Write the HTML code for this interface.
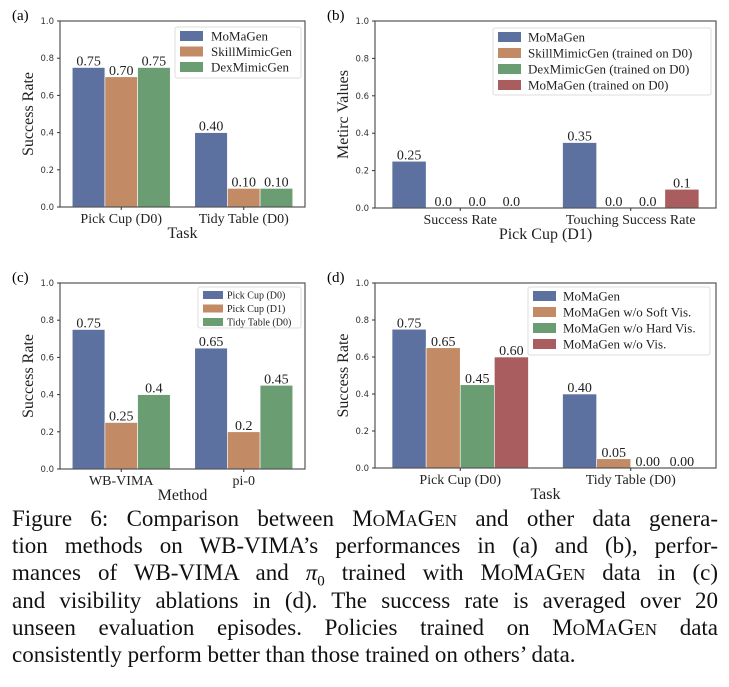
<!DOCTYPE html>
<html><head><meta charset="utf-8">
<style>
body{margin:0;background:#fff;width:729px;height:687px;overflow:hidden;position:relative;font-family:"Liberation Serif",serif}
svg{position:absolute;left:0;top:0}
.cap{position:absolute;left:12px;width:706px;font-size:23px;line-height:27px;text-align:justify;text-align-last:justify;white-space:nowrap;color:#111}
.sc{font-size:17px}
</style></head><body>
<svg id="chart" width="729" height="505"></svg>
<div class="cap" style="top:505px">Figure 6: Comparison between M<span class="sc">O</span>M<span class="sc">A</span>G<span class="sc">EN</span> and other data genera-</div>
<div class="cap" style="top:532px">tion methods on WB-VIMA’s performances in (a) and (b), perfor-</div>
<div class="cap" style="top:559px">mances of WB-VIMA and <i>π</i><sub style="font-size:15px">0</sub> trained with M<span class="sc">O</span>M<span class="sc">A</span>G<span class="sc">EN</span> data in (c)</div>
<div class="cap" style="top:587px">and visibility ablations in (d). The success rate is averaged over 20</div>
<div class="cap" style="top:614px">unseen evaluation episodes. Policies trained on M<span class="sc">O</span>M<span class="sc">A</span>G<span class="sc">EN</span> data</div>
<div class="cap" style="top:641px;text-align-last:left">consistently perform better than those trained on others’ data.</div>
<script>
const colors=["#5d71a0","#c38a66","#6a9e72","#a95d5f"];
const yTicks=[0,0.2,0.4,0.6,0.8,1.0];
const yTickLabels=["0.0","0.2","0.4","0.6","0.8","1.0"];
// (a)
const catsA=["Pick Cup (D0)","Tidy Table (D0)"];
const seriesA=["MoMaGen","SkillMimicGen","DexMimicGen"];
const valsA=[[0.75,0.40],[0.70,0.10],[0.75,0.10]];
const labsA=[["0.75","0.40"],["0.70","0.10"],["0.75","0.10"]];
// (b)
const catsB=["Success Rate","Touching Success Rate"];
const seriesB=["MoMaGen","SkillMimicGen (trained on D0)","DexMimicGen (trained on D0)","MoMaGen (trained on D0)"];
const valsB=[[0.25,0.35],[0,0],[0,0],[0,0.1]];
const labsB=[["0.25","0.35"],["0.0","0.0"],["0.0","0.0"],["0.0","0.1"]];
// (c)
const catsC=["WB-VIMA","pi-0"];
const seriesC=["Pick Cup (D0)","Pick Cup (D1)","Tidy Table (D0)"];
const valsC=[[0.75,0.65],[0.25,0.2],[0.4,0.45]];
const labsC=[["0.75","0.65"],["0.25","0.2"],["0.4","0.45"]];
// (d)
const catsD=["Pick Cup (D0)","Tidy Table (D0)"];
const seriesD=["MoMaGen","MoMaGen w/o Soft Vis.","MoMaGen w/o Hard Vis.","MoMaGen w/o Vis."];
const valsD=[[0.75,0.40],[0.65,0.05],[0.45,0],[0.60,0]];
const labsD=[["0.75","0.40"],["0.65","0.05"],["0.45","0.00"],["0.60","0.00"]];

const svg=document.getElementById('chart');
const NS="http://www.w3.org/2000/svg";
function mk(tag,attrs,parent,text){const e=document.createElementNS(NS,tag);for(const k in attrs)e.setAttribute(k,attrs[k]);if(text!==undefined)e.textContent=text;(parent||svg).appendChild(e);return e;}

function panel(id,P,cats,series,vals,labs,xlabel,ylabel,leg){
  const g=mk('g',{});
  
  
  const W=P.r-P.l,H=P.b-P.t;
  const ys=v=>P.b-v*H;
  const sp=W/cats.length, gw=sp*0.8, bw=gw/series.length;
  const xc=i=>P.l+sp*(i+0.5);
  const pl=mk('text',{x:P.l-48,y:P.t-1,'font-size':15,'font-family':'Liberation Serif,serif'},g,'('+id+')');
  
  series.forEach((s,si)=>{
    cats.forEach((c,ci)=>{
      const v=vals[si][ci];const x=xc(ci)-gw/2+si*bw;
      const r=mk('rect',{x:x,y:ys(v),width:bw,height:v*H,fill:colors[si],stroke:'#fff','stroke-width':0.6},g);
      
      
      const t=mk('text',{x:x+bw/2,y:ys(v)-2,'text-anchor':'middle','font-size':14,'font-family':'Liberation Serif,serif',fill:'#222'},g,labs[si][ci]);
      
      
    });
  });
  mk('rect',{x:P.l,y:P.t,width:W,height:H,fill:'none',stroke:'#555','stroke-width':1.2},g);
  yTicks.forEach((v,i)=>{
    mk('line',{x1:P.l-3,x2:P.l,y1:ys(v),y2:ys(v),stroke:'#333'},g);
    const t=mk('text',{x:P.l-6,y:ys(v)+3,'text-anchor':'end','font-size':8.5,'font-family':'DejaVu Sans,sans-serif',fill:'#333'},g,yTickLabels[i]);
    
    
  });
  cats.forEach((c,ci)=>{
    mk('line',{x1:xc(ci),x2:xc(ci),y1:P.b,y2:P.b+3,stroke:'#333'},g);
    const t=mk('text',{x:xc(ci),y:P.b+16,'text-anchor':'middle','font-size':14,'font-family':'Liberation Serif,serif',fill:'#222'},g,c);
    
    
  });
  const xl=mk('text',{x:(P.l+P.r)/2,y:P.b+31,'text-anchor':'middle','font-size':16,'font-family':'Liberation Serif,serif',fill:'#222'},g,xlabel);
  
  const yl=mk('text',{x:0,y:0,transform:`translate(${P.l-27},${(P.t+P.b)/2}) rotate(-90)`,'text-anchor':'middle','font-size':16,'font-family':'Liberation Serif,serif',fill:'#222'},g,ylabel);
  
  const lg=mk('g',{},g);
  
  mk('rect',{x:leg.x,y:leg.y,width:leg.w,height:leg.h,fill:'#fff','fill-opacity':0.85,stroke:'#ddd',rx:2},lg);
  series.forEach((s,si)=>{
    const y=leg.y+leg.pad+si*leg.dy;
    mk('rect',{x:leg.x+5,y:y,width:leg.sw,height:leg.sh,fill:colors[si]},lg);
    const t=mk('text',{x:leg.x+leg.tx,y:y+leg.sh-0.5,'font-size':leg.fs,'font-family':'Liberation Serif,serif',fill:'#222'},lg,s);
    
    
  });
}
panel('a',{l:60,t:21,r:305,b:207},catsA,seriesA,valsA,labsA,'Task','Success Rate',{x:175,y:27,w:126,h:51,pad:4,dy:15.5,sw:23,sh:10,tx:36,fs:13});
panel('b',{l:375,t:21,r:716,b:208},catsB,seriesB,valsB,labsB,'Pick Cup (D1)','Metirc Values',{x:493,y:28,w:218,h:67,pad:4,dy:16,sw:23,sh:10,tx:35,fs:13});
panel('c',{l:60,t:283,r:305,b:469},catsC,seriesC,valsC,labsC,'Method','Success Rate',{x:198,y:287,w:103,h:41,pad:4,dy:13.5,sw:20,sh:8,tx:29,fs:10});
panel('d',{l:375,t:283,r:716,b:468},catsD,seriesD,valsD,labsD,'Task','Success Rate',{x:528,y:287,w:182,h:68,pad:4,dy:16,sw:23,sh:10,tx:35,fs:13});
</script>
</body></html>
